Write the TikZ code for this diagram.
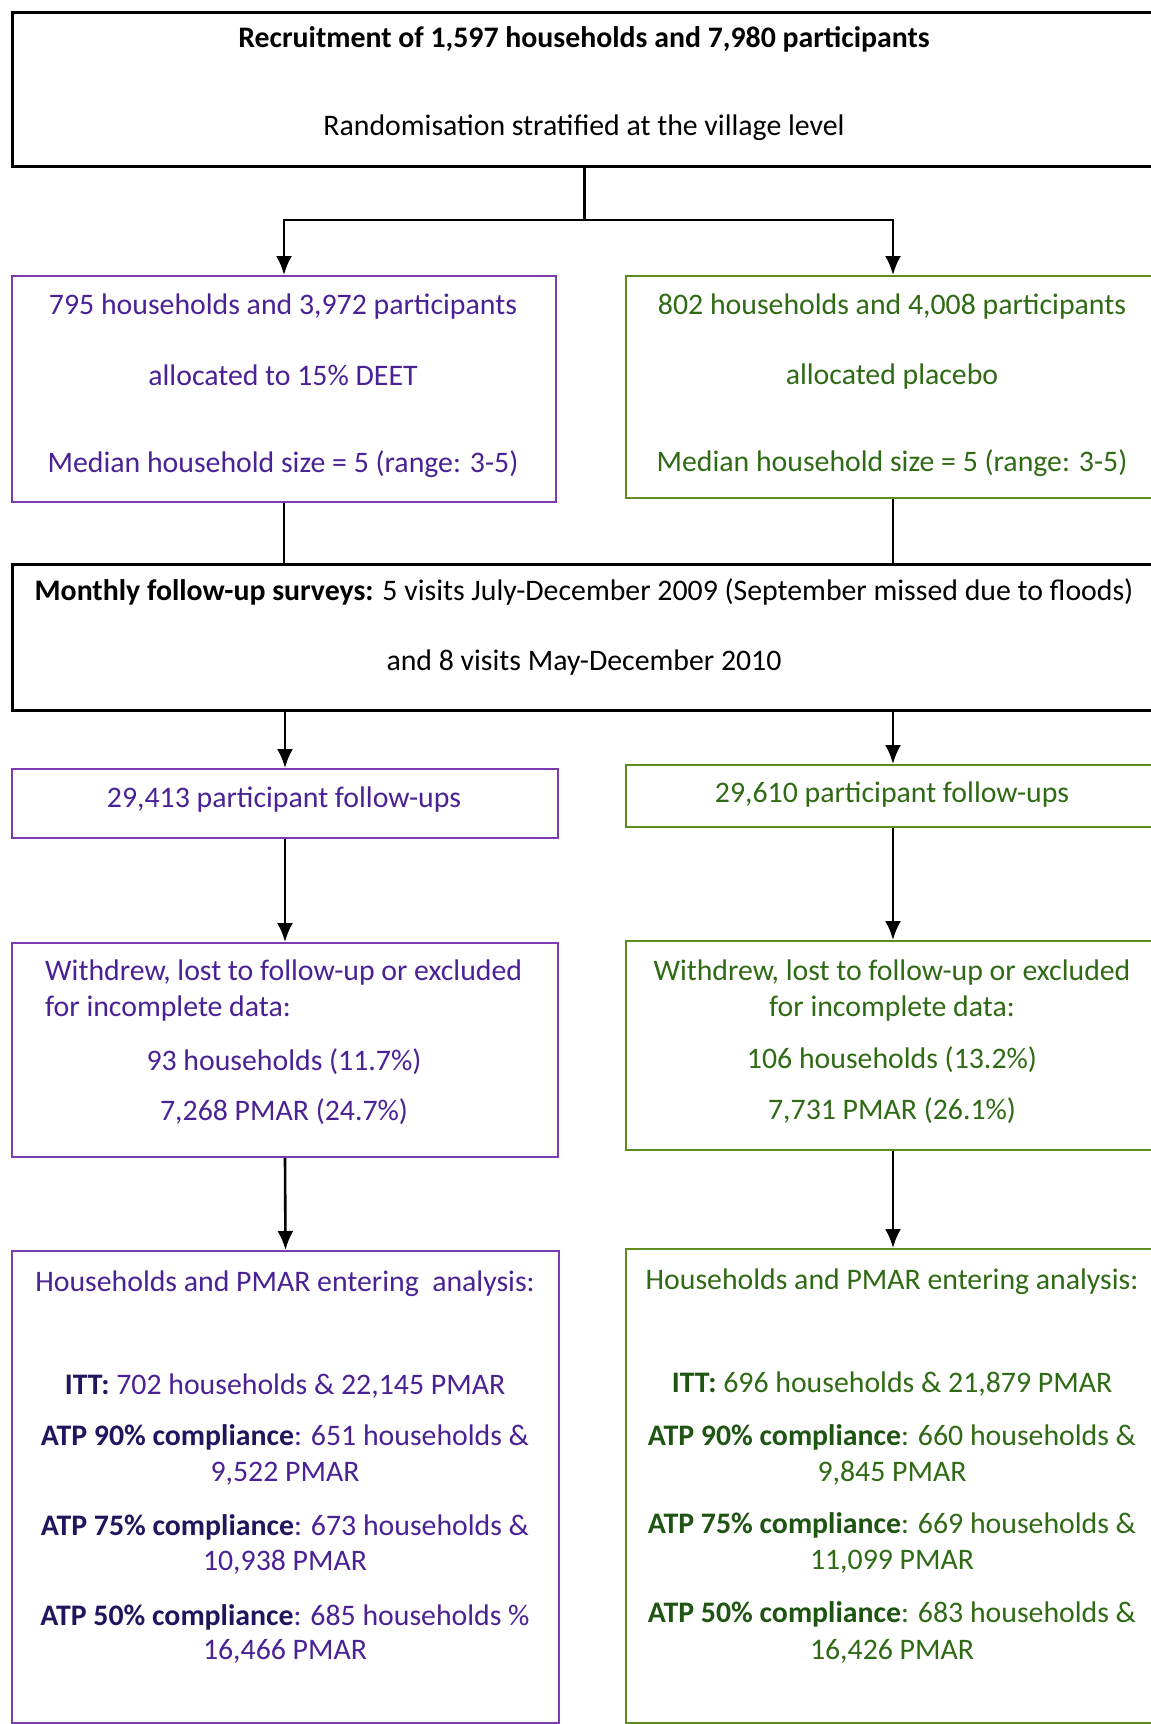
\documentclass[tikz,border=0pt]{standalone}
\usepackage{fontspec}
\setmainfont{Carlito}
\usepackage{tikz}
\usetikzlibrary{arrows.meta}
\definecolor{deetline}{HTML}{7A3CB0}
\definecolor{deettext}{HTML}{4A2296}
\definecolor{deetbold}{HTML}{20165E}
\definecolor{plcline}{HTML}{5E8C1E}
\definecolor{plctext}{HTML}{2F6A14}
\definecolor{plcbold}{HTML}{1E5512}
\tikzstyle{box}=[rectangle, draw=black, line width=2.8pt, anchor=north west, inner sep=0pt]
\tikzstyle{deetbox}=[box, draw=deetline, line width=2pt]
\tikzstyle{plcbox}=[box, draw=plcline, line width=2pt]
\tikzstyle{txt}=[inner sep=0pt, anchor=base, font=\fontsize{29.8}{35}\selectfont]
\tikzstyle{arr}=[line width=2.6pt, -{Latex[length=19pt,width=16pt]}]
\tikzstyle{ln}=[line width=2.6pt]

\begin{document}
\begin{tikzpicture}[x=1pt, y=-1pt]
    \useasboundingbox (0,0) rectangle (1151,1724);
    \fill[white] (0,0) rectangle (1151,1724);
    \clip (0,0) rectangle (1151,1724);

    %boxes
    \node[box, minimum width=1144pt, minimum height=154pt] (recruit) at (11,11) {};
    \node[deetbox, minimum width=544pt, minimum height=226pt] (deet) at (11,275) {};
    \node[plcbox, minimum width=534pt, minimum height=222pt] (plc) at (625,275) {};
    \node[box, minimum width=1146pt, minimum height=146pt] (monthly) at (11,563) {};
    \node[deetbox, minimum width=546pt, minimum height=69pt] (fuL) at (11,768) {};
    \node[plcbox, minimum width=534pt, minimum height=62pt] (fuR) at (625,764) {};
    \node[deetbox, minimum width=546pt, minimum height=214pt] (wdL) at (11,942) {};
    \node[plcbox, minimum width=534pt, minimum height=209pt] (wdR) at (625,940) {};
    \node[deetbox, minimum width=547pt, minimum height=472pt] (anL) at (11,1250) {};
    \node[plcbox, minimum width=534pt, minimum height=474pt] (anR) at (625,1248) {};

    %recruitment
    \node[txt] (rec1) at (584,47) {\textbf{Recruitment of 1,597 households and 7,980 participants}};
    \node[txt] (rec2) at (584,135) {Randomisation stratified at the village level};

    %allocation
    \begin{scope}[deettext]
    \node[txt] (deet1) at (283,314) {795 households and 3,972 participants};
    \node[txt] (deet2) at (283,385) {allocated to 15\% DEET};
    \node[txt] (deet3) at (283,472) {Median household size = 5 (range: 3-5)};
    \end{scope}
    \begin{scope}[plctext]
    \node[txt] (plc1) at (892,314) {802 households and 4,008 participants};
    \node[txt] (plc2) at (892,384) {allocated placebo};
    \node[txt] (plc3) at (892,471) {Median household size = 5 (range: 3-5)};
    \end{scope}

    %follow-up
    \node[txt] (mon1) at (584,600) {\textbf{Monthly follow-up surveys:} 5 visits July-December 2009 (September missed due to floods)};
    \node[txt] (mon2) at (584,670) {and 8 visits May-December 2010};
    \node[txt, deettext] (fuL1) at (284,807) {29,413 participant follow-ups};
    \node[txt, plctext] (fuR1) at (892,802) {29,610 participant follow-ups};

    %withdrawn
    \begin{scope}[deettext]
    \node[txt, anchor=base west] (wdL1) at (45,980) {Withdrew, lost to follow-up or excluded};
    \node[txt, anchor=base west] (wdL2) at (45,1016) {for incomplete data:};
    \node[txt] (wdL3) at (284,1070) {93 households (11.7\%)};
    \node[txt] (wdL4) at (284,1120) {7,268 PMAR (24.7\%)};
    \end{scope}
    \begin{scope}[plctext]
    \node[txt] (wdR1) at (892,980) {Withdrew, lost to follow-up or excluded};
    \node[txt] (wdR2) at (892,1016) {for incomplete data:};
    \node[txt] (wdR3) at (892,1068) {106 households (13.2\%)};
    \node[txt] (wdR4) at (892,1119) {7,731 PMAR (26.1\%)};
    \end{scope}

    %analysis
    \begin{scope}[deettext]
    \node[txt] (anL1) at (285,1291) {Households and PMAR entering\ \ analysis:};
    \node[txt] (anL2) at (285,1394) {\textbf{\color{deetbold}ITT:} 702 households \& 22,145 PMAR};
    \node[txt] (anL3) at (285,1445) {\textbf{\color{deetbold}ATP 90\% compliance}: 651 households \&};
    \node[txt] (anL4) at (285,1481) {9,522 PMAR};
    \node[txt] (anL5) at (285,1535) {\textbf{\color{deetbold}ATP 75\% compliance}: 673 households \&};
    \node[txt] (anL6) at (285,1570) {10,938 PMAR};
    \node[txt] (anL7) at (285,1625) {\textbf{\color{deetbold}ATP 50\% compliance}: 685 households \%};
    \node[txt] (anL8) at (285,1659) {16,466 PMAR};
    \end{scope}
    \begin{scope}[plctext]
    \node[txt] (anR1) at (892,1289) {Households and PMAR entering analysis:};
    \node[txt] (anR2) at (892,1392) {\textbf{\color{plcbold}ITT:} 696 households \& 21,879 PMAR};
    \node[txt] (anR3) at (892,1445) {\textbf{\color{plcbold}ATP 90\% compliance}: 660 households \&};
    \node[txt] (anR4) at (892,1481) {9,845 PMAR};
    \node[txt] (anR5) at (892,1533) {\textbf{\color{plcbold}ATP 75\% compliance}: 669 households \&};
    \node[txt] (anR6) at (892,1569) {11,099 PMAR};
    \node[txt] (anR7) at (892,1622) {\textbf{\color{plcbold}ATP 50\% compliance}: 683 households \&};
    \node[txt] (anR8) at (892,1659) {16,426 PMAR};
    \end{scope}

    %connectors
    \draw[ln] (recruit.south) -- ++(0,52) coordinate (split);
    \draw[arr] (split) -| (deet.north);
    \draw[arr] (split) -| (plc.north);
    \draw[ln] (deet.south) -- (deet.south |- monthly.north);
    \draw[ln] (plc.south) -- (plc.south |- monthly.north);
    \draw[arr] (monthly.south -| fuL.north) -- (fuL.north);
    \draw[arr] (monthly.south -| fuR.north) -- (fuR.north);
    \draw[arr] (fuL.south) -- (wdL.north);
    \draw[arr] (fuR.south) -- (wdR.north);
    \draw[arr] (wdL.south) -- (anL.north);
    \draw[arr] (wdR.south) -- (anR.north);

\end{tikzpicture}
\end{document}
